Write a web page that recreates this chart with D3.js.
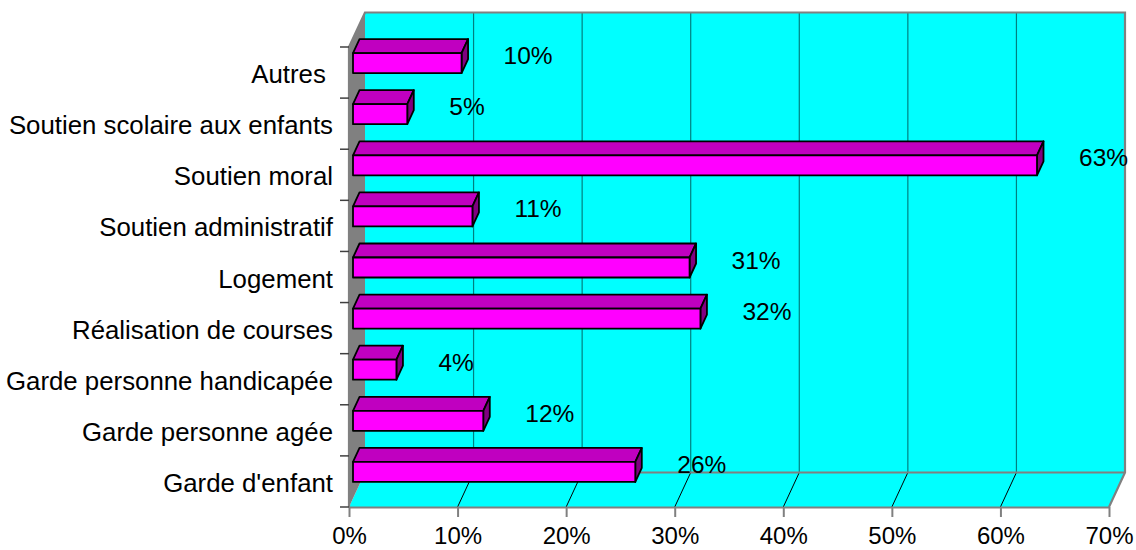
<!DOCTYPE html>
<html>
<head>
<meta charset="utf-8">
<script src="https://cdn.jsdelivr.net/npm/d3@7/dist/d3.min.js"></script>
<style>
  html, body { margin: 0; padding: 0; background: #ffffff; }
  svg { display: block; font-family: "Liberation Sans", Arial, sans-serif; }
</style>
</head>
<body>
<svg id="chart" width="1136" height="550"></svg>
<script>
// Categories listed from the bottom of the chart to the top
const categories = [
  "Garde d'enfant",
  "Garde personne agée",
  "Garde personne handicapée",
  "Réalisation de courses",
  "Logement",
  "Soutien administratif",
  "Soutien moral",
  "Soutien scolaire aux enfants",
  "Autres "
];
const values = [0.26, 0.12, 0.04, 0.32, 0.31, 0.11, 0.63, 0.05, 0.10];
const tickValues = [0, 0.1, 0.2, 0.3, 0.4, 0.5, 0.6, 0.7];

const svg = d3.select("#chart");

// Front plane of the 3D box and the depth vector of the box
const front = { left: 349, right: 1109, top: 47, bottom: 507 };
const depth = { dx: 16, dy: -34.5 };

const x = d3.scaleLinear().domain([0, 0.7]).range([front.left, front.right]);
const y = d3.scaleBand().domain(categories).range([front.bottom, front.top]).paddingInner(0).paddingOuter(0);

const cyan = "#00ffff", wallGray = "#808080", gridTeal = "#008080";

// Back wall
svg.append("rect")
  .attr("x", front.left + depth.dx).attr("y", front.top + depth.dy)
  .attr("width", front.right - front.left).attr("height", front.bottom - front.top)
  .attr("fill", cyan);

// Floor
const floorPts = [
  [front.left, front.bottom],
  [front.left + depth.dx, front.bottom + depth.dy],
  [front.right + depth.dx, front.bottom + depth.dy],
  [front.right, front.bottom]
];
svg.append("polygon").attr("points", floorPts.map(p => p.join(",")).join(" ")).attr("fill", cyan);

// Left side wall
const wallPts = [
  [front.left, front.top],
  [front.left + depth.dx, front.top + depth.dy],
  [front.left + depth.dx, front.bottom + depth.dy],
  [front.left, front.bottom]
];
svg.append("polygon").attr("points", wallPts.map(p => p.join(",")).join(" ")).attr("fill", wallGray);

// Gridlines on the back wall and across the floor
const grid = svg.append("g");
tickValues.slice(1, -1).forEach(t => {
  grid.append("line")
    .attr("x1", x(t) + depth.dx).attr("x2", x(t) + depth.dx)
    .attr("y1", front.top + depth.dy).attr("y2", front.bottom + depth.dy)
    .attr("stroke", gridTeal).attr("stroke-width", 1.2);
});
tickValues.slice(1, -1).forEach(t => {
  grid.append("line")
    .attr("x1", x(t)).attr("y1", front.bottom)
    .attr("x2", x(t) + depth.dx).attr("y2", front.bottom + depth.dy)
    .attr("stroke", "#000000").attr("stroke-width", 1);
});

// Box edges
const edges = svg.append("g").attr("stroke", wallGray).attr("stroke-width", 2.2).attr("fill", "none");
edges.append("polyline").attr("points", [
  [front.left, front.bottom], [front.left, front.top],
  [front.left + depth.dx, front.top + depth.dy],
  [front.right + depth.dx, front.top + depth.dy],
  [front.right + depth.dx, front.bottom + depth.dy],
  [front.right, front.bottom]
].map(p => p.join(",")).join(" "));
edges.append("line")
  .attr("x1", front.left + depth.dx).attr("y1", front.bottom + depth.dy)
  .attr("x2", front.right + depth.dx).attr("y2", front.bottom + depth.dy);

// Bars: front face, top face and right end face
const bar = { fx: 4, fy: -9.5, h: 20, dx: 6.5, dy: -14 };
const barG = svg.append("g").attr("stroke", "#000000").attr("stroke-width", 1.8).attr("stroke-linejoin", "round");
categories.forEach((c, i) => {
  const v = values[i];
  const cy = y(c) + y.bandwidth() / 2 + bar.fy;
  const x0 = x(0) + bar.fx, x1 = x(v) + bar.fx;
  const t = cy - bar.h / 2, b = cy + bar.h / 2;
  const pts = a => a.map(p => p.join(",")).join(" ");
  barG.append("polygon").attr("fill", "#c000c0")
    .attr("points", pts([[x0, t], [x0 + bar.dx, t + bar.dy], [x1 + bar.dx, t + bar.dy], [x1, t]]));
  barG.append("polygon").attr("fill", "#800080")
    .attr("points", pts([[x1, t], [x1 + bar.dx, t + bar.dy], [x1 + bar.dx, b + bar.dy], [x1, b]]));
  barG.append("rect").attr("fill", "#ff00ff")
    .attr("x", x0).attr("y", t).attr("width", x1 - x0).attr("height", bar.h);

  // Value label beside the bar end
  svg.append("text")
    .attr("x", x1 + 42).attr("y", cy + 1)
    .attr("font-size", 24.5).attr("fill", "#000000")
    .text(d3.format(".0%")(v));
});

// Bottom value axis
const xAxis = d3.axisBottom(x).tickValues(tickValues).tickFormat(d3.format(".0%"))
  .tickSize(10).tickPadding(10).tickSizeOuter(0);
const gx = svg.append("g").attr("transform", `translate(0,${front.bottom})`).call(xAxis);
gx.select(".domain").attr("stroke", wallGray).attr("stroke-width", 2.2);
gx.selectAll(".tick line").attr("stroke", wallGray).attr("stroke-width", 2);
gx.selectAll(".tick text").attr("font-size", 24).attr("font-family", "Liberation Sans, Arial, sans-serif").attr("fill", "#000000");

// Left category axis: ticks on band boundaries, labels at band centres
const gy = svg.append("g");
const bounds = categories.map(c => y(c) + y.bandwidth()).concat([y(categories[categories.length - 1])]);
bounds.forEach(b => {
  gy.append("line").attr("x1", front.left - 9).attr("x2", front.left)
    .attr("y1", b).attr("y2", b).attr("stroke", "#404040").attr("stroke-width", 1.5);
});
categories.forEach(c => {
  gy.append("text")
    .attr("x", front.left - 16)
    .attr("y", y(c) + y.bandwidth() / 2 + 10.5)
    .attr("text-anchor", "end")
    .attr("font-size", 25.8)
    .style("white-space", "pre")
    .attr("fill", "#000000")
    .text(c);
});
</script>
</body>
</html>
